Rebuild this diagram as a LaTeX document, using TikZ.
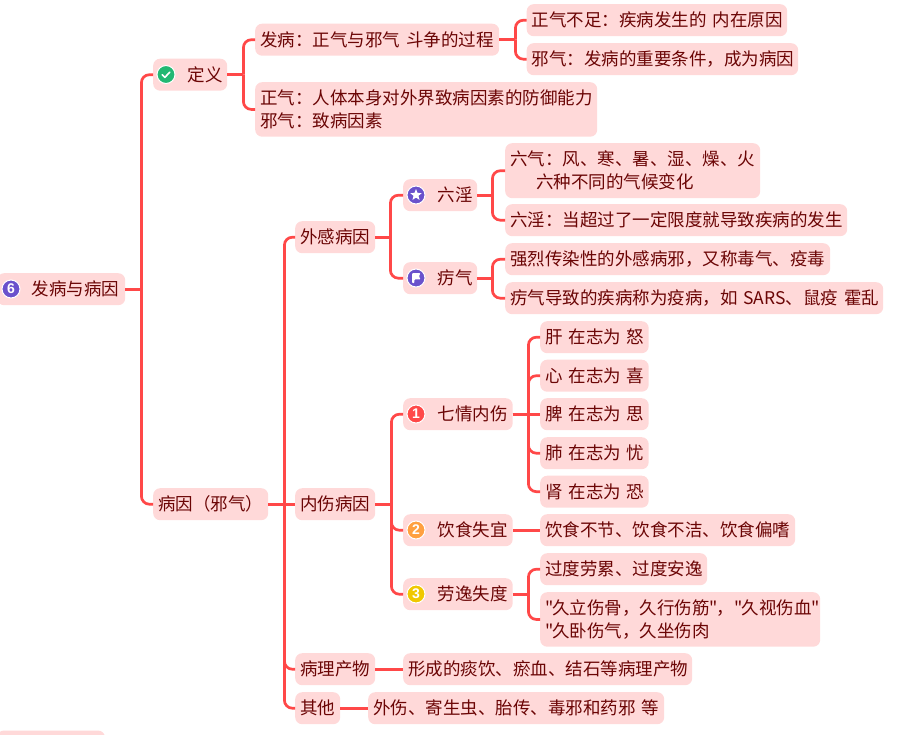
\documentclass[tikz,border=0pt]{standalone}
\usepackage{fontspec}
\newfontfamily\cjkf{Noto Sans CJK SC}
\newfontfamily\iconfont{Liberation Sans}
\usetikzlibrary{shapes.geometric}
\definecolor{boxfill}{HTML}{FFD9D9}
\definecolor{boxtext}{HTML}{6B0505}
\definecolor{linkcol}{HTML}{FF4848}
\definecolor{purpleic}{HTML}{6A52CC}
\definecolor{greenic}{HTML}{22B873}
\definecolor{orangeic}{HTML}{FFA040}
\definecolor{yellowic}{HTML}{F0C800}
\tikzset{
  box/.style={fill=boxfill,rounded corners=7pt,text=boxtext,anchor=north west,align=left,
    inner xsep=5pt,inner ysep=0pt,font=\cjkf\fontsize{17.5}{23}\selectfont},
  link/.style={draw=linkcol,line width=2.7pt},
  icondisc/.style={circle,draw=white,line width=1pt,minimum size=18pt,inner sep=0pt,text=white,
    font=\iconfont\bfseries\fontsize{14}{14}\selectfont},
}
% name, x1, y1, x2, y2, text
\newcommand\bx[6]{%
  \pgfmathsetmacro\bw{#4-#2}\pgfmathsetmacro\bh{#5-#3}\pgfmathsetmacro\tw{#4-#2-10}%
  \node[box,minimum width=\bw pt,minimum height=\bh pt,text width=\tw pt] (#1) at (#2,#3) {#6};}
% parent, child, horizontal run to the trunk
\newcommand\bend[3]{\draw[link] (#1.east) -- ++(#3,0) coordinate (trunkpt);
  \draw[link,rounded corners=8pt] (trunkpt) |- (#2.west);}
\newcommand\icn{\hspace*{29.5pt}}
\newcommand\dq{"\kern-1.2pt}
\begin{document}
\begin{tikzpicture}[x=1pt,y=-1pt]
\useasboundingbox (0,0) rectangle (899,734);
\clip (0,0) rectangle (899,734);
\fill[white] (0,0) rectangle (899,734);
\bx{root}{-3}{273}{125}{305}{\icn 发病与病因}
\bx{def}{153}{58.5}{227}{90.5}{\icn 定义}
\bx{fb}{255}{23.5}{499}{55.5}{发病：正气与邪气~斗争的过程}
\bx{zq}{255}{82}{597}{136.5}{正气：人体本身对外界致病因素的防御能力\\邪气：致病因素}
\bx{zqbz}{526.5}{4}{787}{36}{正气不足：疾病发生的~内在原因}
\bx{xq}{526.5}{43}{798}{75}{邪气：发病的重要条件，成为病因}
\bx{bingyin}{153}{488}{268}{520}{病因（邪气）}
\bx{wg}{295}{221}{375}{253}{外感病因}
\bx{ng}{295}{488}{375}{520}{内伤病因}
\bx{bl}{295}{653}{375}{685}{病理产物}
\bx{qt}{295}{692}{340}{724}{其他}
\bx{ly}{403}{179}{477}{211}{\icn 六淫}
\bx{lq}{403}{262}{477}{294}{\icn 疠气}
\bx{lq1}{505}{143}{760}{198}{六气：风、寒、暑、湿、燥、火\\\hspace*{26pt}六种不同的气候变化}
\bx{ly1}{505}{204}{847}{236}{六淫：当超过了一定限度就导致疾病的发生}
\bx{lq2}{505}{243}{830}{275}{强烈传染性的外感病邪，又称毒气、疫毒}
\bx{lq3}{505}{282}{883}{314}{疠气导致的疾病称为疫病，如~SARS、鼠疫~霍乱}
\bx{qq}{403}{398}{512.5}{430}{\icn 七情内伤}
\bx{ys}{403}{514}{512.5}{546}{\icn 饮食失宜}
\bx{ld}{403}{578}{512.5}{610}{\icn 劳逸失度}
\bx{e1}{540}{321}{648.5}{353}{肝~在志为~怒}
\bx{e2}{540}{359.5}{648.5}{391.5}{心~在志为~喜}
\bx{e3}{540}{398}{648.5}{430}{脾~在志为~思}
\bx{e4}{540}{437}{648.5}{469}{肺~在志为~忧}
\bx{e5}{540}{475.5}{648.5}{507.5}{肾~在志为~恐}
\bx{ys1}{540}{514}{795}{546}{饮食不节、饮食不洁、饮食偏嗜}
\bx{ld1}{540}{553}{707}{585}{过度劳累、过度安逸}
\bx{ld2}{540}{592}{820}{646.5}{\dq 久立伤骨，久行伤筋\dq，\dq 久视伤血\dq\\\dq 久卧伤气，久坐伤肉}
\bx{bl1}{403}{653}{692}{685}{形成的痰饮、瘀血、结石等病理产物}
\bx{qt1}{368}{692}{664}{724}{外伤、寄生虫、胎传、毒邪和药邪~等}
\fill[boxfill,rounded corners=7pt] (-3,730.5) rectangle (105,760);
% connectors
\bend{root}{def}{16}\bend{root}{bingyin}{16}
\bend{def}{fb}{16}\bend{def}{zq}{16}
\bend{fb}{zqbz}{16}\bend{fb}{xq}{16}
\bend{bingyin}{wg}{16}\draw[link] (bingyin) -- (ng);
\bend{bingyin}{bl}{16}\bend{bingyin}{qt}{16}
\bend{wg}{ly}{15}\bend{wg}{lq}{15}
\bend{ly}{lq1}{15}\bend{ly}{ly1}{15}
\bend{lq}{lq2}{15}\bend{lq}{lq3}{15}
\bend{ng}{qq}{16}\bend{ng}{ys}{16}\bend{ng}{ld}{16}
\bend{qq}{e1}{15.5}\bend{qq}{e2}{15.5}\draw[link] (qq) -- (e3);
\bend{qq}{e4}{15.5}\bend{qq}{e5}{15.5}
\draw[link] (ys) -- (ys1);
\bend{ld}{ld1}{15.5}\bend{ld}{ld2}{15.5}
\draw[link] (bl) -- (bl1);
\draw[link] (qt) -- (qt1);
% icons
\node[icondisc,fill=purpleic] (ic6) at (11,289) {6};
\node[icondisc,fill=greenic] (iccheck) at (166,74.5) {};
\draw[white,line width=1.6pt,line cap=round,line join=round] (iccheck.center) ++(-3.8,0.3) -- ++(2.6,2.6) -- ++(5,-5.2);
\node[icondisc,fill=purpleic] (icstar) at (416,195) {};
\node[star,star points=5,star point ratio=2.3,fill=white,minimum size=12pt,inner sep=0pt] (starshape) at (icstar.center) {};
\node[icondisc,fill=purpleic] (icflag) at (416,278) {};
\fill[white,rounded corners=0.8pt] (icflag.center) ++(-4,-4.8) -- ++(8.5,0) -- ++(-1.6,3.1) -- ++(1.6,3.1) -- ++(-6.2,0) -- ++(0,3.6) -- ++(-2.3,0) -- cycle;
\node[icondisc,fill=linkcol] (ic1) at (416,414) {1};
\node[icondisc,fill=orangeic] (ic2) at (416,530) {2};
\node[icondisc,fill=yellowic] (ic3) at (416,594) {3};
\end{tikzpicture}
\end{document}
